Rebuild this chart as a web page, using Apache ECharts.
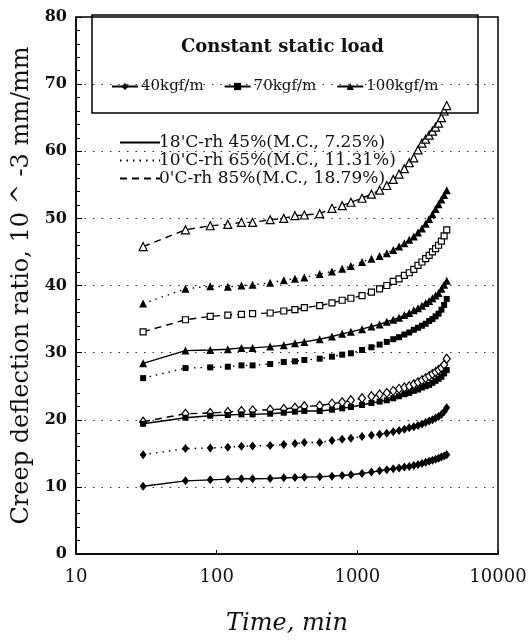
<!DOCTYPE html>
<html>
<head>
<meta charset="utf-8">
<script src="https://cdn.jsdelivr.net/npm/echarts@6/dist/echarts.min.js"></script>
<style>
  html, body { margin: 0; padding: 0; background: #fff; }
  #chart { width: 532px; height: 641px; }
</style>
</head>
<body>
<div id="chart"></div>
<script>
// time, min
var times = [30, 60, 90, 120, 150, 180, 240, 300, 360, 420, 540, 660, 780, 900,
  1080, 1260, 1440, 1620, 1800, 1980, 2160, 2340, 2520, 2700, 2880, 3060,
  3240, 3420, 3600, 3780, 3960, 4140, 4320];

// 40 kgf/m
var k40_18 = [10.1, 10.9, 11.05, 11.15, 11.2, 11.2, 11.25, 11.35, 11.4, 11.45, 11.5, 11.6, 11.7, 11.8,
  12.0, 12.2, 12.4, 12.55, 12.7, 12.8, 12.95, 13.05, 13.2, 13.35, 13.5, 13.65,
  13.8, 13.95, 14.1, 14.25, 14.45, 14.6, 14.8];
var k40_10 = [14.8, 15.7, 15.8, 15.9, 16.05, 16.1, 16.15, 16.3, 16.45, 16.6, 16.6, 16.9, 17.1, 17.25,
  17.5, 17.7, 17.85, 18.0, 18.2, 18.4, 18.6, 18.8, 18.95, 19.15, 19.35, 19.6,
  19.8, 20.0, 20.25, 20.5, 20.8, 21.2, 21.8];
var k40_0 = [19.7, 20.9, 21.0, 21.15, 21.3, 21.4, 21.5, 21.6, 21.8, 22.0, 22.1, 22.4, 22.6, 22.9,
  23.2, 23.5, 23.75, 24.0, 24.3, 24.6, 24.8, 25.0, 25.3, 25.6, 25.9, 26.2,
  26.5, 26.8, 27.1, 27.4, 27.7, 28.2, 29.1];
// 70 kgf/m
var k70_18 = [19.4, 20.3, 20.6, 20.7, 20.8, 20.8, 20.9, 21.05, 21.2, 21.3, 21.3, 21.5, 21.7, 21.9,
  22.2, 22.5, 22.7, 22.9, 23.2, 23.5, 23.8, 24.0, 24.3, 24.5, 24.8, 25.0,
  25.2, 25.5, 25.8, 26.1, 26.4, 26.9, 27.4];
var k70_10 = [26.2, 27.7, 27.8, 27.9, 28.1, 28.1, 28.3, 28.6, 28.7, 28.9, 29.1, 29.4, 29.7, 29.9,
  30.4, 30.8, 31.2, 31.6, 32.0, 32.3, 32.7, 33.0, 33.4, 33.7, 34.0, 34.3,
  34.7, 35.0, 35.4, 35.8, 36.4, 37.1, 38.0];
var k70_0 = [33.1, 34.9, 35.4, 35.6, 35.7, 35.8, 35.9, 36.2, 36.4, 36.7, 37.0, 37.4, 37.8, 38.1,
  38.5, 39.0, 39.5, 40.0, 40.6, 41.0, 41.5, 41.9, 42.4, 43.0, 43.5, 44.0,
  44.5, 45.0, 45.5, 46.0, 46.6, 47.4, 48.3];
// 100 kgf/m
var k100_18 = [28.4, 30.3, 30.4, 30.5, 30.7, 30.7, 30.9, 31.1, 31.4, 31.6, 32.0, 32.4, 32.8, 33.1,
  33.5, 33.9, 34.2, 34.6, 34.9, 35.2, 35.6, 35.9, 36.3, 36.6, 37.0, 37.4,
  37.7, 38.1, 38.5, 38.9, 39.5, 40.1, 40.7];
var k100_10 = [37.3, 39.5, 39.9, 39.8, 40.0, 40.1, 40.4, 40.8, 41.0, 41.2, 41.7, 42.1, 42.5, 42.9,
  43.5, 44.0, 44.4, 44.8, 45.3, 45.8, 46.3, 46.8, 47.3, 47.9, 48.5, 49.2,
  49.9, 50.6, 51.4, 52.1, 52.8, 53.5, 54.2];
var k100_0 = [45.8, 48.3, 48.9, 49.1, 49.4, 49.4, 49.8, 50.0, 50.4, 50.5, 50.7, 51.5, 51.9, 52.4,
  53.0, 53.6, 54.2, 54.9, 55.8, 56.6, 57.4, 58.3, 59.0, 60.2, 61.2, 61.8,
  62.4, 63.0, 63.6, 64.2, 65.0, 66.0, 66.8];

var loadNames = ['40kgf/m', '70kgf/m', '100kgf/m'];
var condNames = ["18'C-rh 45%(M.C., 7.25%)", "10'C-rh 65%(M.C., 11.31%)", "0'C-rh 85%(M.C., 18.79%)"];
var xTicks = [10, 100, 1000, 10000];

var serif = 'DejaVu Serif';
var symbols = { '40kgf/m': 'diamond', '70kgf/m': 'rect', '100kgf/m': 'triangle' };
var symSizes = { '40kgf/m': [7, 9], '70kgf/m': 6, '100kgf/m': 8 };
var lineTypes = ['solid', [1.5, 5], [7, 5]];

function pairs(vals) {
  return times.map(function (t, i) { return [t, vals[i]]; });
}

function dataSeries(name, load, cond, vals) {
  var open = cond === 2;
  return {
    name: name,
    type: 'line',
    data: pairs(vals),
    symbol: symbols[load],
    symbolSize: symSizes[load],
    showAllSymbol: true,
    z: 5,
    lineStyle: { color: '#000', width: 1.4, type: lineTypes[cond] },
    itemStyle: {
      color: open ? '#fff' : '#000',
      borderColor: '#000',
      borderWidth: open ? 1.2 : 0
    }
  };
}

var series = [
  dataSeries('40-18', '40kgf/m', 0, k40_18),
  dataSeries('40-10', '40kgf/m', 1, k40_10),
  dataSeries('40-0', '40kgf/m', 2, k40_0),
  dataSeries('70-18', '70kgf/m', 0, k70_18),
  dataSeries('70-10', '70kgf/m', 1, k70_10),
  dataSeries('70-0', '70kgf/m', 2, k70_0),
  dataSeries('100-18', '100kgf/m', 0, k100_18),
  dataSeries('100-10', '100kgf/m', 1, k100_10),
  dataSeries('100-0', '100kgf/m', 2, k100_0)
];

// legend-only entries
loadNames.forEach(function (n) {
  series.push({
    name: n, type: 'line', data: [],
    symbol: symbols[n], symbolSize: 7,
    lineStyle: { color: '#000', width: 1.4 },
    itemStyle: { color: '#000' }
  });
});
condNames.forEach(function (n, i) {
  series.push({
    name: n, type: 'line', data: [], symbol: 'none',
    lineStyle: { color: '#000', width: 1.4, type: lineTypes[i] },
    itemStyle: { color: 'rgba(0,0,0,0)', opacity: 0 }
  });
});

var myChart = echarts.init(document.getElementById('chart'));
var options = {
  animation: false,
  backgroundColor: '#fff',
  title: {
    text: 'Constant static load',
    left: 176,
    top: 33,
    textStyle: { fontFamily: serif, fontSize: 18, fontWeight: 'bold', color: '#111' }
  },
  graphic: [{
    type: 'rect',
    shape: { x: 92, y: 15, width: 386, height: 98 },
    style: { fill: null, stroke: '#000', lineWidth: 1.5 },
    z: 10
  }],
  legend: [{
    data: loadNames,
    left: 106,
    top: 74,
    itemWidth: 26,
    itemHeight: 9,
    itemGap: 20,
    selectedMode: false,
    textStyle: { fontFamily: serif, fontSize: 15, color: '#111', padding: [0, 0, 0, -2] }
  }, {
    data: condNames,
    left: 114,
    top: 129,
    orient: 'vertical',
    itemWidth: 40,
    itemHeight: 12,
    itemGap: 1,
    selectedMode: false,
    itemStyle: { opacity: 0 },
    textStyle: { fontFamily: serif, fontSize: 17, lineHeight: 16, color: '#111', padding: [0, 0, 0, -6] }
  }],
  grid: {
    left: 76,
    right: 34,
    top: 17,
    bottom: 83,
    show: true,
    borderColor: '#000',
    borderWidth: 1.5
  },
  xAxis: {
    type: 'log',
    logBase: 10,
    min: 10,
    max: 10000,
    name: 'Time, min',
    nameLocation: 'middle',
    nameGap: 58,
    nameTextStyle: { fontFamily: serif, fontSize: 24, fontStyle: 'italic', color: '#111' },
    axisLine: { lineStyle: { color: '#000', width: 1.5 } },
    axisTick: { inside: true, length: 4, lineStyle: { color: '#000' } },
    splitLine: { show: false },
    axisLabel: {
      margin: 14,
      fontFamily: serif,
      fontSize: 18,
      color: '#111',
      formatter: function (v) { return xTicks.indexOf(v) >= 0 ? String(v) : ''; }
    }
  },
  yAxis: {
    type: 'value',
    min: 0,
    max: 80,
    interval: 10,
    name: 'Creep deflection ratio, 10 ^ -3 mm/mm',
    nameLocation: 'middle',
    nameGap: 40,
    nameTextStyle: { fontFamily: serif, fontSize: 24, color: '#111' },
    axisLine: { lineStyle: { color: '#000', width: 1.5 } },
    axisTick: { inside: true, length: 6, lineStyle: { color: '#000' } },
    minorTick: { show: true, splitNumber: 5, length: 4, lineStyle: { color: '#000' } },
    splitLine: { show: true, lineStyle: { color: '#333', width: 1.2, type: [1.5, 7] } },
    axisLabel: { margin: 9, fontFamily: serif, fontSize: 16, fontWeight: 'bold', color: '#111' }
  },
  series: series
};
myChart.setOption(options, true);
</script>
</body>
</html>
